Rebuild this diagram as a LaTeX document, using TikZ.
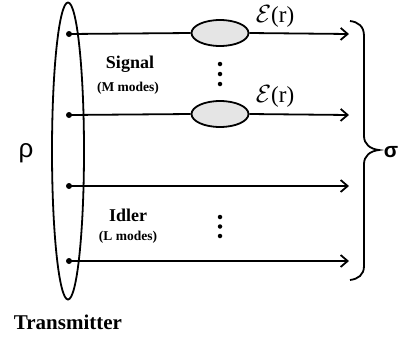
\documentclass[tikz,border=0pt]{standalone}
\usepackage{fontspec}
\setmainfont{Liberation Serif}
\newfontfamily\sansf{Liberation Sans}
\usetikzlibrary{arrows.meta,shapes.geometric}
\begin{document}
\begin{tikzpicture}[x=1pt,y=-1pt,line width=1.8pt,
  dotst/.style={circle,fill=black,inner sep=0pt,minimum size=6pt},
  chan/.style={ellipse,draw,fill=black!10,minimum width=57pt,minimum height=26pt,inner sep=0pt},
  wire/.style={-{Straight Barb[length=7pt,width=12pt]}},
  lbl/.style={font=\bfseries\fontsize{18}{20}\selectfont,inner sep=0pt},
  sublbl/.style={font=\bfseries\fontsize{13.5}{15}\selectfont,inner sep=0pt},
  epslbl/.style={font=\fontsize{23}{25}\selectfont,inner sep=0pt},
  vdot/.style={circle,fill=black,inner sep=0pt,minimum size=4.5pt},
]
\useasboundingbox (0,0) rectangle (404,341);
% transmitter
\node[draw,ellipse,minimum width=32pt,minimum height=297pt,inner sep=0pt] (tx) at (68,151) {};
% source dots
\node[dotst] (d1) at (69,34) {};
\node[dotst] (d2) at (69,115) {};
\node[dotst] (d3) at (69,186) {};
\node[dotst] (d4) at (69,261) {};
% channels
\node[chan] (c1) at (220,33) {};
\node[chan] (c2) at (220,114) {};
% ends
\coordinate (e1) at (349,34);
\coordinate (e2) at (349,115);
\coordinate (e3) at (349,186);
\coordinate (e4) at (349,261);
\draw (d1.center) -- (c1.west);
\draw[wire] (c1.east) -- (e1);
\draw (d2.center) -- (c2.west);
\draw[wire] (c2.east) -- (e2);
\draw[wire] (d3.center) -- (e3);
\draw[wire] (d4.center) -- (e4);
% channel labels
\node[epslbl] (eps1) at (275,16) {$\mathcal{E}$(r)};
\node[epslbl] (eps2) at (275,96) {$\mathcal{E}$(r)};
% vertical dots
\node[vdot] at (220,64) {};
\node[vdot] at (220,74) {};
\node[vdot] at (220,84) {};
\node[vdot] at (220,217) {};
\node[vdot] at (220,226.5) {};
\node[vdot] at (220,236) {};
% mode labels
\node[lbl] (sig) at (130,64) {Signal};
\node[sublbl] (sigm) at (128,88) {(M modes)};
\node[lbl] (idl) at (128,215) {Idler};
\node[sublbl] (idlm) at (128,237) {(L modes)};
\node[font=\bfseries\fontsize{21}{23}\selectfont,inner sep=0pt] (trans) at (68,322) {Transmitter};
% rho and sigma
\node[font=\sansf\fontsize{26}{28}\selectfont,inner sep=0pt] (rho) at (26,153) {ρ};
\node[font=\sansf\bfseries\fontsize{21}{23}\selectfont,inner sep=0pt] (sigma) at (391,152) {σ};
% brace
\draw (350,21) .. controls (358,22) and (364,26) .. (364,36)
  -- (364,136) .. controls (364,144) and (370,149) .. (379,150)
  .. controls (370,151) and (364,156) .. (364,164)
  -- (364,266) .. controls (364,275) and (358,279) .. (350,280);
\end{tikzpicture}
\end{document}
